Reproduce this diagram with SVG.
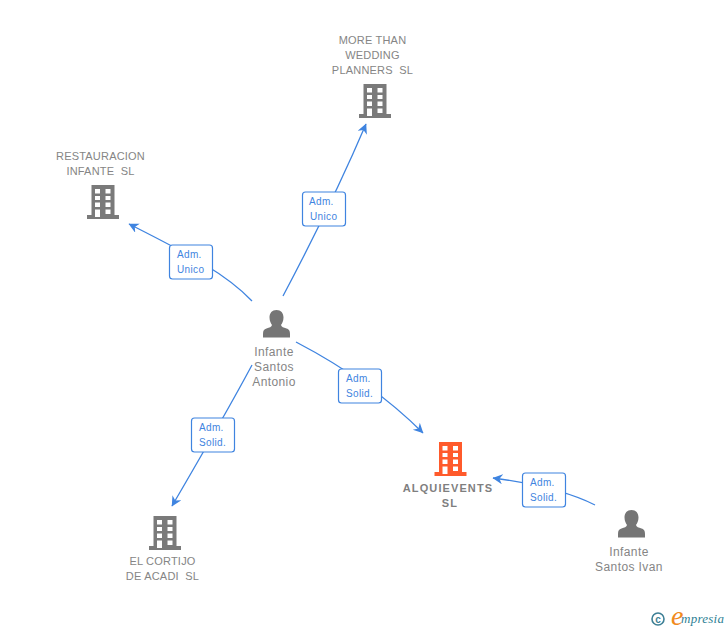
<svg xmlns="http://www.w3.org/2000/svg" width="728" height="630" viewBox="0 0 728 630">
<style>
text{font-family:"Liberation Sans",Arial,sans-serif;white-space:pre}
.n{font-size:11px;fill:#858585;text-anchor:middle;letter-spacing:.2px}
.p{font-size:12px;fill:#858585;text-anchor:middle;letter-spacing:.4px}
.b{font-size:11px;fill:#7f7f7f;text-anchor:middle;font-weight:bold;letter-spacing:1.1px}
.l{fill:none;stroke:#3f84e0;stroke-width:1.3}
.box{fill:#fff;stroke:#3f84e0;stroke-width:1.2}
.t{font-size:10px;fill:#3f84e0;letter-spacing:.35px}
</style>
<defs>
<marker id="a" markerWidth="11" markerHeight="11" refX="9.500" refY="5" orient="auto" markerUnits="userSpaceOnUse"><path d="M0 0L10 5L0 10L3 5Z" fill="#3f84e0"/></marker>
<path id="bld" fill-rule="evenodd" d="M-11.500 0H11.500V30H16V34H-16V30H-11.500ZM-8 4V8.500H-3V4ZM2.500 4V8.500H7.500V4ZM-8 11V15H-3V11ZM2.500 11V15H7.500V11ZM-8 17.500V22H-3V17.500ZM2.500 17.500V22H7.500V17.500ZM-8 24.500V32H-3V24.500ZM2.500 24.500V29H7.500V24.500Z"/>
<path id="per" d="M0 0C4.500 0 7 3 7 7.500C7 11 5.500 13.500 4.500 15C5 17 7 17.500 10 18.500C12.500 19.300 13.500 20.500 13.500 24V27.500H-13.500V24C-13.500 20.500 -12.500 19.300 -10 18.500C-7 17.500 -5 17 -4.500 15C-5.500 13.500 -7 11 -7 7.500C-7 3 -4.500 0 0 0Z"/>
</defs>
<g id="connectors">
<path class="l" marker-end="url(#a)" d="M283 296C310 245 340 185 366 124"/>
<path class="l" marker-end="url(#a)" d="M252 301C225 272 180 250 129 224"/>
<path class="l" marker-end="url(#a)" d="M252 365C228 410 200 458 172 506"/>
<path class="l" marker-end="url(#a)" d="M296 342C340 365 385 395 423 433"/>
<path class="l" marker-end="url(#a)" d="M595 505C565 490 530 483 493 478"/>
</g>
<g id="label-more"><rect class="box" x="302.500" y="192" width="43" height="34" rx="3"/><text class="t" x="309" y="205">Adm.</text><text class="t" x="310" y="220">Unico</text></g>
<g id="label-rest"><rect class="box" x="169.500" y="245" width="43" height="34" rx="3"/><text class="t" x="177" y="258">Adm.</text><text class="t" x="177" y="273">Unico</text></g>
<g id="label-cortijo"><rect class="box" x="191.500" y="418" width="43" height="34" rx="3"/><text class="t" x="199" y="431">Adm.</text><text class="t" x="199" y="446">Solid.</text></g>
<g id="label-alq"><rect class="box" x="338.500" y="369" width="43" height="34" rx="3"/><text class="t" x="346" y="382">Adm.</text><text class="t" x="346" y="397">Solid.</text></g>
<g id="label-ivan"><rect class="box" x="522.500" y="473" width="43" height="34" rx="3"/><text class="t" x="530" y="486">Adm.</text><text class="t" x="530" y="501">Solid.</text></g>
<g id="node-more"><use href="#bld" x="375" y="84" fill="#7a7a7a"/><text class="n" x="372.500" y="44">MORE THAN</text><text class="n" x="372.500" y="59">WEDDING</text><text class="n" x="372.500" y="74">PLANNERS  SL</text></g>
<g id="node-rest"><use href="#bld" x="103" y="185" fill="#7a7a7a"/><text class="n" x="100.500" y="160">RESTAURACION</text><text class="n" x="100.500" y="175">INFANTE  SL</text></g>
<g id="node-cortijo"><use href="#bld" x="165" y="516" fill="#7a7a7a"/><text class="n" x="162.500" y="565">EL CORTIJO</text><text class="n" x="162.500" y="580">DE ACADI  SL</text></g>
<g id="node-alq"><use href="#bld" x="450.500" y="442" fill="#ff5a2b"/><text class="b" x="448" y="492">ALQUIEVENTS</text><text class="b" x="450" y="507">SL</text></g>
<g id="node-antonio"><use href="#per" x="276.500" y="310" fill="#757575"/><text class="p" x="274" y="356">Infante</text><text class="p" x="274" y="371">Santos</text><text class="p" x="274" y="386">Antonio</text></g>
<g id="node-ivan"><use href="#per" x="631.500" y="510" fill="#757575"/><text class="p" x="629" y="556">Infante</text><text class="p" x="629" y="571">Santos Ivan</text></g>
<g id="logo"><circle cx="658" cy="619" r="6" fill="none" stroke="#3d7f95" stroke-width="1.600"/><text x="658" y="622.500" font-size="10" font-weight="bold" text-anchor="middle" fill="#3d7f95">c</text><text x="671" y="625" font-size="28" font-style="italic" fill="#f08a1d" style="font-family:'Liberation Serif',serif">e</text><text x="681" y="623" font-size="13" font-style="italic" fill="#2f7f95" style="font-family:'Liberation Serif',serif" textLength="43" lengthAdjust="spacing">mpresia</text></g>
</svg>
